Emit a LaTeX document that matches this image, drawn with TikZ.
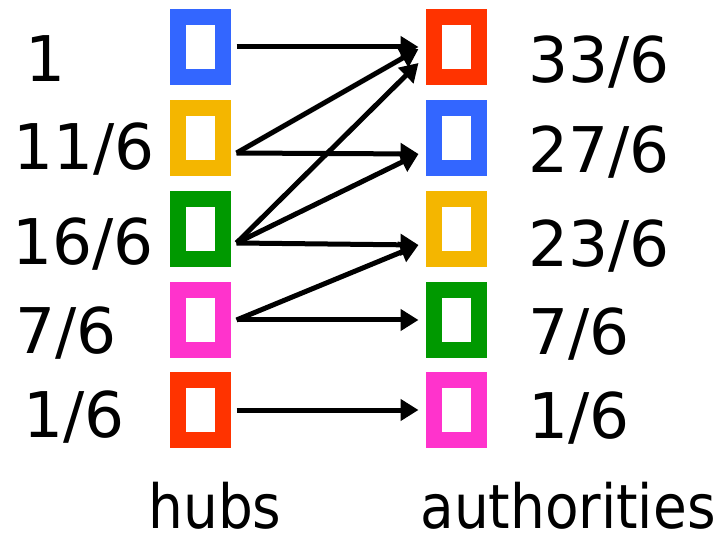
\documentclass[tikz,border=0pt]{standalone}
\usepackage{fontspec}
\setmainfont{DejaVu Sans}
\newfontfamily\condfont{DejaVu Sans Condensed}
\usepackage{xcolor}
\definecolor{hablue}{RGB}{51,102,255}
\definecolor{hayellow}{RGB}{244,182,0}
\definecolor{hagreen}{RGB}{0,153,0}
\definecolor{hapink}{RGB}{255,51,204}
\definecolor{hared}{RGB}{255,51,0}
\usepackage{tikz}
\usetikzlibrary{arrows.meta,calc}
\tikzset{
  page/.style={x=1pt, y=-1pt},
  page box/.style={draw, line width=16pt, fill=white, inner sep=0pt, minimum width=45pt, minimum height=60pt},
  score/.style={font=\fontsize{63}{63}\selectfont, inner sep=0pt},
  caption/.style={font=\condfont\fontsize{61}{61}\selectfont, inner sep=0pt},
  arr/.style={-{Triangle[length=18pt,width=21pt]}, line width=5pt}
}

\begin{document}
\begin{tikzpicture}[page]
  \useasboundingbox (0,0) rectangle (723,537);
  % hubs
  \node[page box, draw=hablue]   (h1) at (200,47)  {};
  \node[page box, draw=hayellow] (h2) at (200,138) {};
  \node[page box, draw=hagreen]  (h3) at (200,229) {};
  \node[page box, draw=hapink]   (h4) at (200,320) {};
  \node[page box, draw=hared]    (h5) at (200,410) {};
  % authorities
  \node[page box, draw=hared]    (a1) at (456,47)  {};
  \node[page box, draw=hablue]   (a2) at (456,138) {};
  \node[page box, draw=hayellow] (a3) at (456,229) {};
  \node[page box, draw=hagreen]  (a4) at (456,320) {};
  \node[page box, draw=hapink]   (a5) at (456,410) {};
  % scores
  \node[score, anchor=base] (sh1) at (46,82)  {1};
  \node[score, anchor=base] (sh2) at (84,170) {11/6};
  \node[score, anchor=base] (sh3) at (83,265) {16/6};
  \node[score, anchor=base] (sh4) at (66,353) {7/6};
  \node[score, anchor=base] (sh5) at (74,437) {1/6};
  \node[score, anchor=base west] (sa1) at (528,83)  {33/6};
  \node[score, anchor=base west] (sa2) at (528,173) {27/6};
  \node[score, anchor=base west] (sa3) at (528,267) {23/6};
  \node[score, anchor=base west] (sa4) at (528,355) {7/6};
  \node[score, anchor=base west] (sa5) at (528,438) {1/6};
  \node[caption, anchor=base] (hubs) at (215,528) {hubs};
  \node[caption, anchor=base] (auth) at (568,528) {authorities};
  % links
  \draw[arr] ([xshift=6pt]h1.east) -- ([xshift=-7pt]a1.west);
  \draw[arr] ([xshift=6pt,yshift=-15pt]h2.east) -- ([xshift=-7pt,yshift=-2pt]a1.west);
  \draw[arr] ([xshift=6pt,yshift=-15pt]h2.east) -- ([xshift=-7pt,yshift=-16pt]a2.west);
  \draw[arr] ([xshift=6pt,yshift=-14pt]h3.east) -- ([xshift=-7pt,yshift=-16pt]a1.west);
  \draw[arr] ([xshift=6pt,yshift=-14pt]h3.east) -- ([xshift=-7pt,yshift=-16pt]a2.west);
  \draw[arr] ([xshift=6pt,yshift=-14pt]h3.east) -- ([xshift=-7pt,yshift=-16pt]a3.west);
  \draw[arr] ([xshift=6pt]h4.east) -- ([xshift=-7pt,yshift=-16pt]a3.west);
  \draw[arr] ([xshift=6pt]h4.east) -- ([xshift=-7pt]a4.west);
  \draw[arr] ([xshift=6pt]h5.east) -- ([xshift=-7pt]a5.west);
\end{tikzpicture}
\end{document}
